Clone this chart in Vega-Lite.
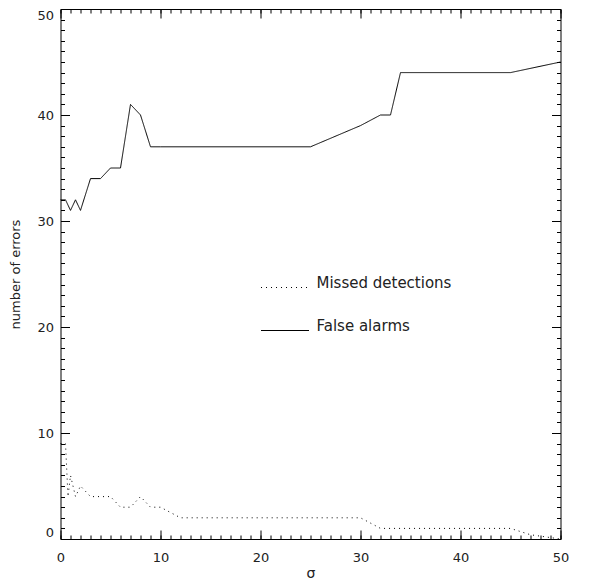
{
  "$schema": "https://vega.github.io/schema/vega-lite/v6.json",
  "width": 500,
  "height": 530,
  "autosize": {"type": "none"},
  "padding": {"left": 60.5, "top": 9, "right": 28.5, "bottom": 46},
  "background": "white",
  "config": {
    "view": {"stroke": "black", "strokeWidth": 1},
    "font": "DejaVu Sans",
    "axis": {
      "domain": false,
      "grid": false,
      "tickColor": "black",
      "tickWidth": 1,
      "labelColor": "#222",
      "labelFont": "DejaVu Sans",
      "labelFontSize": 13,
      "titleFont": "DejaVu Sans",
      "titleFontSize": 13,
      "titleFontWeight": "normal",
      "titleColor": "#222"
    }
  },
  "datasets": {
    "errors": [
      {"sigma": 0, "errors": 32, "series": "False alarms"},
      {"sigma": 0.5, "errors": 32, "series": "False alarms"},
      {"sigma": 1, "errors": 31, "series": "False alarms"},
      {"sigma": 1.5, "errors": 32, "series": "False alarms"},
      {"sigma": 2, "errors": 31, "series": "False alarms"},
      {"sigma": 3, "errors": 34, "series": "False alarms"},
      {"sigma": 4, "errors": 34, "series": "False alarms"},
      {"sigma": 5, "errors": 35, "series": "False alarms"},
      {"sigma": 6, "errors": 35, "series": "False alarms"},
      {"sigma": 7, "errors": 41, "series": "False alarms"},
      {"sigma": 8, "errors": 40, "series": "False alarms"},
      {"sigma": 9, "errors": 37, "series": "False alarms"},
      {"sigma": 10, "errors": 37, "series": "False alarms"},
      {"sigma": 25, "errors": 37, "series": "False alarms"},
      {"sigma": 30, "errors": 39, "series": "False alarms"},
      {"sigma": 32, "errors": 40, "series": "False alarms"},
      {"sigma": 33, "errors": 40, "series": "False alarms"},
      {"sigma": 34, "errors": 44, "series": "False alarms"},
      {"sigma": 45, "errors": 44, "series": "False alarms"},
      {"sigma": 50, "errors": 45, "series": "False alarms"},
      {"sigma": 0, "errors": 9, "series": "Missed detections"},
      {"sigma": 0.5, "errors": 9, "series": "Missed detections"},
      {"sigma": 0.75, "errors": 4, "series": "Missed detections"},
      {"sigma": 1, "errors": 6, "series": "Missed detections"},
      {"sigma": 1.5, "errors": 4, "series": "Missed detections"},
      {"sigma": 2, "errors": 5, "series": "Missed detections"},
      {"sigma": 3, "errors": 4, "series": "Missed detections"},
      {"sigma": 4, "errors": 4, "series": "Missed detections"},
      {"sigma": 5, "errors": 4, "series": "Missed detections"},
      {"sigma": 6, "errors": 3, "series": "Missed detections"},
      {"sigma": 7, "errors": 3, "series": "Missed detections"},
      {"sigma": 8, "errors": 4, "series": "Missed detections"},
      {"sigma": 9, "errors": 3, "series": "Missed detections"},
      {"sigma": 10, "errors": 3, "series": "Missed detections"},
      {"sigma": 12, "errors": 2, "series": "Missed detections"},
      {"sigma": 30, "errors": 2, "series": "Missed detections"},
      {"sigma": 32, "errors": 1, "series": "Missed detections"},
      {"sigma": 45, "errors": 1, "series": "Missed detections"},
      {"sigma": 47, "errors": 0.4, "series": "Missed detections"},
      {"sigma": 50, "errors": 0, "series": "Missed detections"}
    ]
  },
  "data": {"name": "errors"},
  "layer": [
    {
      "transform": [{"filter": "datum.series === 'False alarms'"}],
      "mark": {"type": "line", "color": "black", "strokeWidth": 1},
      "encoding": {
        "x": {
          "field": "sigma", "type": "quantitative",
          "scale": {"domain": [0, 50], "nice": false, "zero": false},
          "axis": {"orient": "bottom", "values": [0, 10, 20, 30, 40, 50], "tickSize": -9, "labelPadding": 21.5, "labelFlush": false, "title": "σ", "titleFontSize": 14, "titlePadding": 2}
        },
        "y": {
          "field": "errors", "type": "quantitative",
          "scale": {"domain": [0, 50], "nice": false, "zero": false},
          "axis": {"orient": "left", "values": [0, 10, 20, 30, 40, 50], "tickSize": -9, "labelPadding": 16, "labelFlush": true, "title": "number of errors", "titlePadding": 14}
        },
        "strokeDash": {
          "field": "series", "type": "nominal",
          "scale": {"domain": ["Missed detections", "False alarms"], "range": [[1, 4], [1, 0]]},
          "legend": {
            "orient": "none", "legendX": 200, "legendY": 254, "title": null,
            "symbolType": "stroke", "symbolSize": 2304, "symbolStrokeWidth": 1, "symbolStrokeColor": "black",
            "symbolOffset": 0, "padding": 0, "labelFont": "DejaVu Sans", "labelFontSize": 15,
            "labelColor": "#222", "labelOffset": 7, "labelBaseline": "alphabetic", "rowPadding": 15
          }
        }
      }
    },
    {
      "transform": [{"filter": "datum.series === 'Missed detections'"}],
      "mark": {"type": "line", "color": "black", "strokeWidth": 1},
      "encoding": {
        "x": {"field": "sigma", "type": "quantitative", "axis": {"orient": "bottom", "tickCount": 50, "tickSize": -4, "labels": false, "title": null}},
        "y": {"field": "errors", "type": "quantitative", "axis": {"orient": "left", "tickCount": 50, "tickSize": -4, "labels": false, "title": null}},
        "strokeDash": {"field": "series", "type": "nominal"}
      }
    },
    {
      "mark": {"type": "point", "opacity": 0},
      "encoding": {
        "x": {"field": "sigma", "type": "quantitative", "axis": {"orient": "top", "values": [0, 10, 20, 30, 40, 50], "tickSize": -9, "labels": false, "title": null}},
        "y": {"field": "errors", "type": "quantitative", "axis": {"orient": "right", "values": [0, 10, 20, 30, 40, 50], "tickSize": -9, "labels": false, "title": null}}
      }
    },
    {
      "mark": {"type": "point", "opacity": 0},
      "encoding": {
        "x": {"field": "sigma", "type": "quantitative", "axis": {"orient": "top", "tickCount": 50, "tickSize": -4, "labels": false, "title": null}},
        "y": {"field": "errors", "type": "quantitative", "axis": {"orient": "right", "tickCount": 50, "tickSize": -4, "labels": false, "title": null}}
      }
    }
  ],
  "resolve": {"axis": {"x": "independent", "y": "independent"}}
}
